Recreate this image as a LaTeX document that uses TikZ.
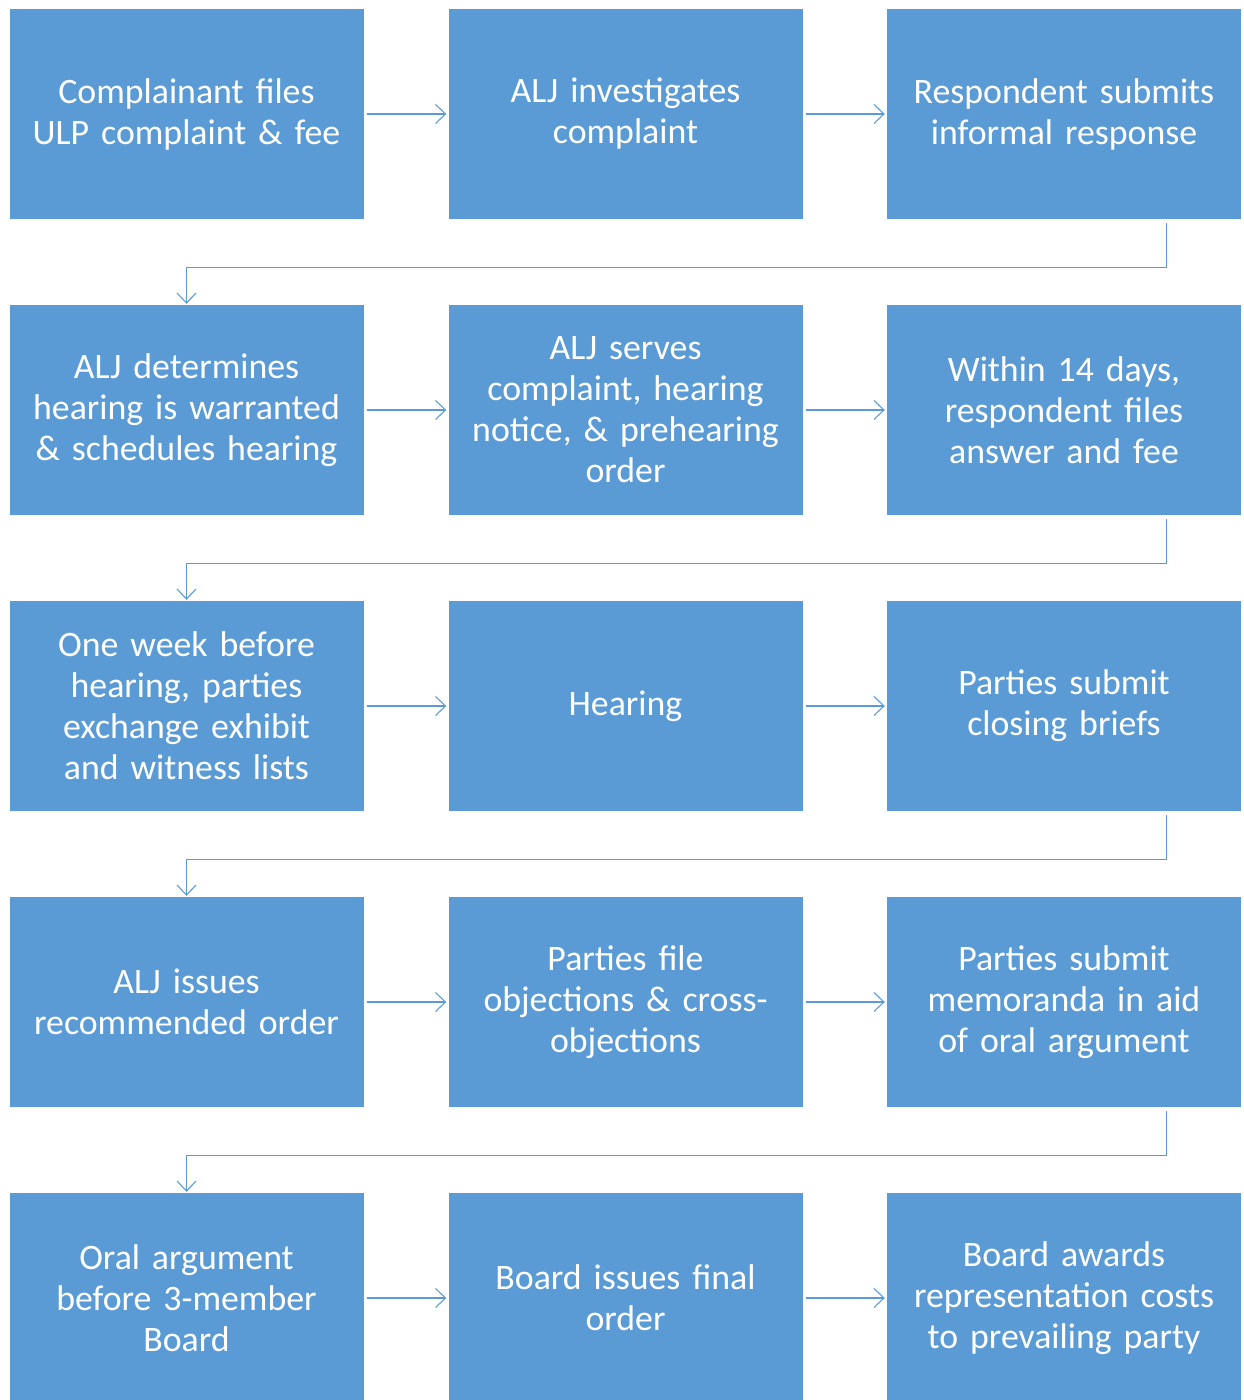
\documentclass[tikz,border=0pt]{standalone}
\usepackage{fontspec}
\setmainfont{Carlito}
\usetikzlibrary{arrows.meta,calc}
\definecolor{boxblue}{HTML}{5B9BD5}
\definecolor{lineblue}{HTML}{5B9BD5}
\begin{document}
\begin{tikzpicture}[x=1pt,y=-1pt,
  stepbox/.style={rectangle,fill=boxblue,draw=none,minimum width=354pt,minimum height=210pt,
    inner sep=0pt,text width=345pt,align=center,text=white,
    font=\fontsize{35.8}{41}\selectfont},
  conn/.style={draw=lineblue,line width=1.1pt,-{Straight Barb[length=10pt,width=19pt,line width=1.1pt]}},
]
\useasboundingbox (0,0) rectangle (1243,1400);
\clip (0,0) rectangle (1243,1400);
\node[stepbox] (r1c1) at (186.5,114) {Complainant files\\ULP complaint \& fee};
\node[stepbox] (r1c2) at (625.5,114) {ALJ investigates\\complaint};
\node[stepbox] (r1c3) at (1064,114) {Respondent submits\\informal response};
\node[stepbox] (r2c1) at (186.5,410) {ALJ determines\\hearing is warranted\\\& schedules hearing};
\node[stepbox] (r2c2) at (625.5,410) {ALJ serves\\complaint, hearing\\notice, \& prehearing\\order};
\node[stepbox] (r2c3) at (1064,410) {Within 14 days,\\respondent files\\answer and fee};
\node[stepbox] (r3c1) at (186.5,706) {One week before\\hearing, parties\\exchange exhibit\\and witness lists};
\node[stepbox] (r3c2) at (625.5,706) {Hearing};
\node[stepbox] (r3c3) at (1064,706) {Parties submit\\closing briefs};
\node[stepbox] (r4c1) at (186.5,1002) {ALJ issues\\recommended order};
\node[stepbox] (r4c2) at (625.5,1002) {Parties file\\objections \& cross-\\objections};
\node[stepbox] (r4c3) at (1064,1002) {Parties submit\\memoranda in aid\\of oral argument};
\node[stepbox] (r5c1) at (186.5,1298) {Oral argument\\before 3-member\\Board};
\node[stepbox] (r5c2) at (625.5,1298) {Board issues final\\order};
\node[stepbox] (r5c3) at (1064,1298) {Board awards\\representation costs\\to prevailing party};
\foreach \r in {1,...,5}{
  \draw[conn,shorten <=3pt,shorten >=2pt] (r\r c1.east) -- (r\r c2.west);
  \draw[conn,shorten <=3pt,shorten >=2pt] (r\r c2.east) -- (r\r c3.west);
}
\foreach \a/\b in {1/2,2/3,3/4,4/5}{
  \coordinate (s\a) at ($(r\a c3.south east)+(-75,4)$);
  \draw[conn,shorten >=1pt] (s\a) -- ++(0,44) -| (r\b c1.north);
}
\end{tikzpicture}
\end{document}
